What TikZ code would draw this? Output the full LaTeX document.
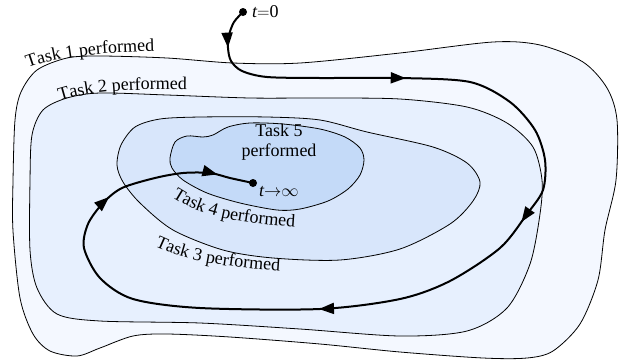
\documentclass[tikz,border=0pt]{standalone}
\usepackage{fontspec}
\setmainfont{Liberation Serif}
\usepackage{tikz}
\usetikzlibrary{positioning,arrows.meta,decorations.markings,decorations.text}

\definecolor{taskone}{RGB}{244,248,255}
\definecolor{tasktwo}{RGB}{231,240,254}
\definecolor{taskthree}{RGB}{216,230,251}
\definecolor{taskfive}{RGB}{196,218,248}
\newcommand\taskfont{\fontsize{18}{20}\selectfont}

\begin{document}
\begin{tikzpicture}[%
        x=1pt, y=-1pt,
        >={Triangle[length=15pt,width=11pt]},
        region/.style={draw=black, line width=0.8pt},
        dot/.style={circle, fill=black, inner sep=0pt, minimum size=8pt},
        tasklabel/.style={decorate, decoration={text along path, text={|\taskfont|#1}}},
        traj/.style={%
          line width=2pt,
          postaction={decorate},
          decoration={markings,
            mark=at position 0.034 with {\arrow{>}},
            mark=at position 0.198 with {\arrow{>}},
            mark=at position 0.408 with {\arrow{>}},
            mark=at position 0.602 with {\arrow{>}},
            mark=at position 0.873 with {\arrow{>}},
            mark=at position 0.969 with {\arrow{>}}}
        }
      ]
      \useasboundingbox (0,0) rectangle (628,362);
      % nested regions
      \filldraw[region, fill=taskone] plot[smooth cycle] coordinates {
        (13,181) (15,120) (21,92) (37,70) (67,58) (100,56) (167,58) (233,63)
        (300,63) (400,53) (493,42) (540,45) (583,62) (607,88) (617,120)
        (616,180) (605,230) (598,280) (580,324) (553,351) (527,358) (483,358)
        (400,352) (320,344) (230,337) (167,334) (133,336) (100,348) (77,356)
        (50,351) (33,334) (20,298) (13,231)};
      \filldraw[region, fill=tasktwo] plot[smooth cycle] coordinates {
        (30,181) (32,135) (43,110) (67,98) (100,93) (167,95) (250,98) (320,98)
        (400,99) (467,107) (507,123) (533,147) (542,180) (540,214) (530,264)
        (507,308) (467,331) (400,336) (300,329) (200,323) (100,321) (57,314)
        (37,288) (30,250)};
      \filldraw[region, fill=taskthree] plot[smooth cycle] coordinates {
        (117,165) (121,145) (135,127) (160,119) (200,117) (267,117) (320,120)
        (367,132) (433,147) (467,163) (480,182) (473,201) (450,224) (400,249)
        (340,260) (273,258) (223,250) (173,230) (140,203) (123,182)};
      \filldraw[region, fill=taskfive] plot[smooth cycle] coordinates {
        (170,158) (175,142) (187,136) (203,137) (213,135) (228,127) (250,123)
        (283,124) (320,129) (345,137) (360,148) (364,160) (360,175) (348,189)
        (328,201) (300,209) (277,210) (240,203) (207,193) (183,180) (172,168)};

      % labels along the borders
      \path[tasklabel={Task 1 performed}] (28,68) .. controls (55,58) and (90,52) .. (175,51);
      \path[tasklabel={Task 2 performed}] (60,101) .. controls (85,93) and (120,88) .. (205,90);
      \path[tasklabel={Task 4 performed}] (172,197) .. controls (195,212) and (225,224) .. (310,228);
      \path[tasklabel={Task 3 performed}] (155,246) .. controls (180,258) and (215,268) .. (300,272);
      \node[align=center, font=\taskfont, inner sep=0pt] (taskfivelbl) at (279,142) {Task 5\\performed};

      % trajectory
      \node[dot] (tstart) at (243,12) {};
      \node[dot] (tend) at (253,183) {};
      \node[font=\taskfont, anchor=west, inner sep=1pt] (tzero) at (251,12) {\itshape t\upshape$=$0};
      \node[font=\taskfont, anchor=west, inner sep=1pt] (tinfty) at (258,192) {\itshape t\upshape$\to$$\infty$};
      \draw[traj] plot[smooth] coordinates {
        (tstart.center) (234,22) (229,35) (228,48) (231,61) (242,71) (267,77)
        (320,78) (400,78) (470,82) (510,102) (535,130) (545,160) (543,190)
        (527,214) (500,248) (450,281) (400,299) (320,309) (200,308) (133,299)
        (100,278) (84,248) (88,224) (103,203) (122,188) (155,178) (183,173)
        (210,173) (230,178) (tend.center)};
    \end{tikzpicture}
\end{document}
